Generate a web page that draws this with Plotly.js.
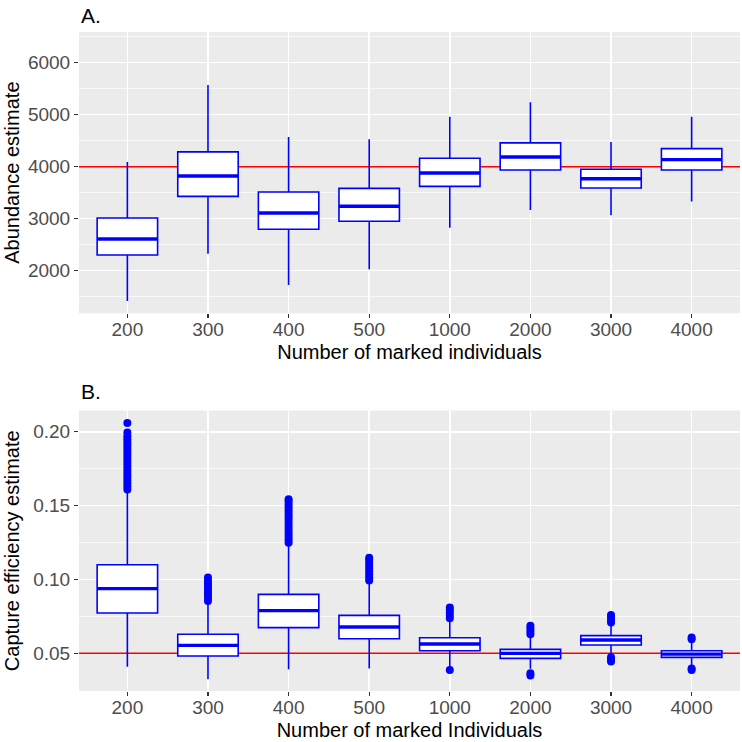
<!DOCTYPE html>
<html><head><meta charset="utf-8">
<script src="https://cdn.plot.ly/plotly-3.0.1.min.js"></script>
<style>html,body{margin:0;padding:0;background:#fff}#chart{width:742px;height:742px}</style>
</head><body><div id="chart"></div>
<script>
// ---- data ----
const categories = ['200','300','400','500','1000','2000','3000','4000'];

// Panel A: abundance estimate
const A_lower = [1415, 2325, 1723, 2026, 2826, 3167, 3064, 3328];
const A_q1    = [2299, 3428, 2794, 2949, 3621, 3936, 3588, 3936];
const A_med   = [2608, 3820, 3109, 3238, 3878, 4186, 3768, 4135];
const A_q3    = [3013, 4283, 3511, 3582, 4161, 4457, 3949, 4347];
const A_upper = [4090, 5572, 4572, 4527, 4958, 5238, 4476, 4958];
const A_ref = 4000;

// Panel B: capture efficiency estimate
const B_lower = [0.0410, 0.0324, 0.0392, 0.0398, 0.0405, 0.0395, 0.0485, 0.0410];
const B_q1    = [0.0773, 0.0482, 0.0674, 0.0599, 0.0518, 0.0466, 0.0556, 0.0473];
const B_med   = [0.0938, 0.0554, 0.0789, 0.0678, 0.0563, 0.0500, 0.0590, 0.0495];
const B_q3    = [0.1100, 0.0629, 0.0899, 0.0757, 0.0606, 0.0527, 0.0620, 0.0518];
const B_upper = [0.1600, 0.0850, 0.1240, 0.0990, 0.0730, 0.0620, 0.0700, 0.0590];
const B_outliers = [
  [0.161,0.163,0.165,0.167,0.169,0.171,0.173,0.175,0.177,0.179,0.181,0.183,0.185,0.187,0.189,0.191,0.193,0.195,0.197,0.1996,0.2059],
  [0.0854,0.0874,0.0894,0.0914,0.0934,0.0954,0.0974,0.0994,0.1014],
  [0.1249,0.1269,0.1289,0.1309,0.1329,0.1349,0.1369,0.1389,0.1409,0.1429,0.1449,0.1469,0.1489,0.1509,0.1529,0.1544],
  [0.0994,0.1014,0.1034,0.1054,0.1074,0.1094,0.1114,0.1134,0.1147],
  [0.0737,0.0757,0.0777,0.0797,0.0811,0.0387],
  [0.0629,0.0649,0.0669,0.0687,0.0365,0.0350],
  [0.0708,0.0728,0.0748,0.0759,0.0473,0.0458,0.0444],
  [0.0595,0.0608,0.0398,0.0388]
];
const B_ref = 0.05;

// ---- styling ----
const BLUE = '#0000FF';
const BOXW = 0.75;
const X_RANGE = [-0.6, 7.6];
const A_RANGE = [1178, 6590];
const B_RANGE = [0.0245, 0.2144];
const idx = categories.map((c, i) => i);

function refTrace(xa, ya, ref) {
  return {type: 'scatter', mode: 'lines', xaxis: xa, yaxis: ya,
    x: X_RANGE, y: [ref, ref], line: {color: '#FF0000', width: 1.5},
    hoverinfo: 'skip', showlegend: false, cliponaxis: true};
}
function boxTrace(xa, ya, lo, q1, med, q3, hi) {
  return {
    type: 'box', xaxis: xa, yaxis: ya, x: idx,
    lowerfence: lo, q1: q1, median: med, q3: q3, upperfence: hi,
    width: BOXW, whiskerwidth: 0, boxpoints: false,
    line: {color: BLUE, width: 1.6}, fillcolor: 'white',
    hoverinfo: 'skip', showlegend: false
  };
}
function medianTrace(xa, ya, med) {
  const xs = [], ys = [];
  med.forEach((m, i) => { xs.push(i - BOXW / 2, i + BOXW / 2, null); ys.push(m, m, null); });
  return {type: 'scatter', mode: 'lines', xaxis: xa, yaxis: ya, x: xs, y: ys,
    line: {color: BLUE, width: 3.4}, hoverinfo: 'skip', showlegend: false};
}
function outlierTrace(xa, ya, outs) {
  const xs = [], ys = [];
  outs.forEach((arr, i) => arr.forEach(v => { xs.push(i); ys.push(v); }));
  return {type: 'scatter', mode: 'markers', xaxis: xa, yaxis: ya, x: xs, y: ys,
    marker: {color: BLUE, size: 8, line: {width: 0}}, hoverinfo: 'skip', showlegend: false};
}

const data = [
  refTrace('x', 'y', A_ref),
  refTrace('x2', 'y2', B_ref),
  boxTrace('x3', 'y3', A_lower, A_q1, A_med, A_q3, A_upper),
  medianTrace('x3', 'y3', A_med),
  boxTrace('x4', 'y4', B_lower, B_q1, B_med, B_q3, B_upper),
  medianTrace('x4', 'y4', B_med),
  outlierTrace('x4', 'y4', B_outliers)
];

const FONT = 'Liberation Sans, Arial, Helvetica, sans-serif';
function xAxis(anchor, title, standoff) {
  return {
    anchor: anchor, domain: [0, 1], range: X_RANGE,
    tickmode: 'array', tickvals: idx, ticktext: categories,
    showgrid: true, gridcolor: 'white', gridwidth: 1.5,
    zeroline: false, showline: false,
    ticks: 'outside', ticklen: 4, tickwidth: 1.1, tickcolor: '#333333',
    tickfont: {family: FONT, size: 19, color: '#4D4D4D'}, ticklabelstandoff: -5,
    automargin: false, fixedrange: true,
    title: {text: title, font: {family: FONT, size: 20, color: '#000000'}, standoff: standoff}
  };
}
function yAxis(anchor, domain, range, dtick, minor, fmt, title, standoff) {
  return {
    anchor: anchor, domain: domain, range: range,
    tickmode: 'linear', tick0: 0, dtick: dtick, tickformat: fmt,
    showgrid: true, gridcolor: 'white', gridwidth: 1.5,
    minor: {dtick: minor, tick0: 0, showgrid: true, gridcolor: 'white', gridwidth: 0.7, ticks: ''},
    zeroline: false, showline: false,
    ticks: 'outside', ticklen: 4, tickwidth: 1.1, tickcolor: '#333333',
    tickfont: {family: FONT, size: 19, color: '#4D4D4D'},
    automargin: false, fixedrange: true,
    title: {text: title, font: {family: FONT, size: 20, color: '#000000'}, standoff: standoff}
  };
}
function overlayAxis(over, anchor, range) {
  return {overlaying: over, anchor: anchor, range: range, visible: false,
    showgrid: false, zeroline: false, fixedrange: true};
}

const layout = {
  width: 742, height: 742,
  margin: {l: 79, r: 2, t: 32, b: 51},
  paper_bgcolor: 'white', plot_bgcolor: '#EBEBEB',
  font: {family: FONT},
  showlegend: false,
  xaxis: xAxis('y', 'Number of marked individuals', 5),
  yaxis: yAxis('x', [0.5731, 1], A_RANGE, 1000, 500, '', 'Abundance estimate', 2),
  xaxis2: xAxis('y2', 'Number of marked Individuals', 6),
  yaxis2: yAxis('x2', [0, 0.4256], B_RANGE, 0.05, 0.025, '.2f', 'Capture efficiency estimate', 8),
  xaxis3: overlayAxis('x', 'y3', X_RANGE),
  yaxis3: overlayAxis('y', 'x3', A_RANGE),
  xaxis4: overlayAxis('x2', 'y4', X_RANGE),
  yaxis4: overlayAxis('y2', 'x4', B_RANGE),
  annotations: [
    {text: 'A.', xref: 'paper', yref: 'paper', x: 0, y: 1.025, xanchor: 'left', yanchor: 'middle',
     showarrow: false, font: {family: FONT, size: 21, color: '#000000'}},
    {text: 'B.', xref: 'paper', yref: 'paper', x: 0, y: 0.4552, xanchor: 'left', yanchor: 'middle',
     showarrow: false, font: {family: FONT, size: 21, color: '#000000'}}
  ]
};

Plotly.newPlot('chart', data, layout, {staticPlot: true, displayModeBar: false});
</script>
</body></html>
